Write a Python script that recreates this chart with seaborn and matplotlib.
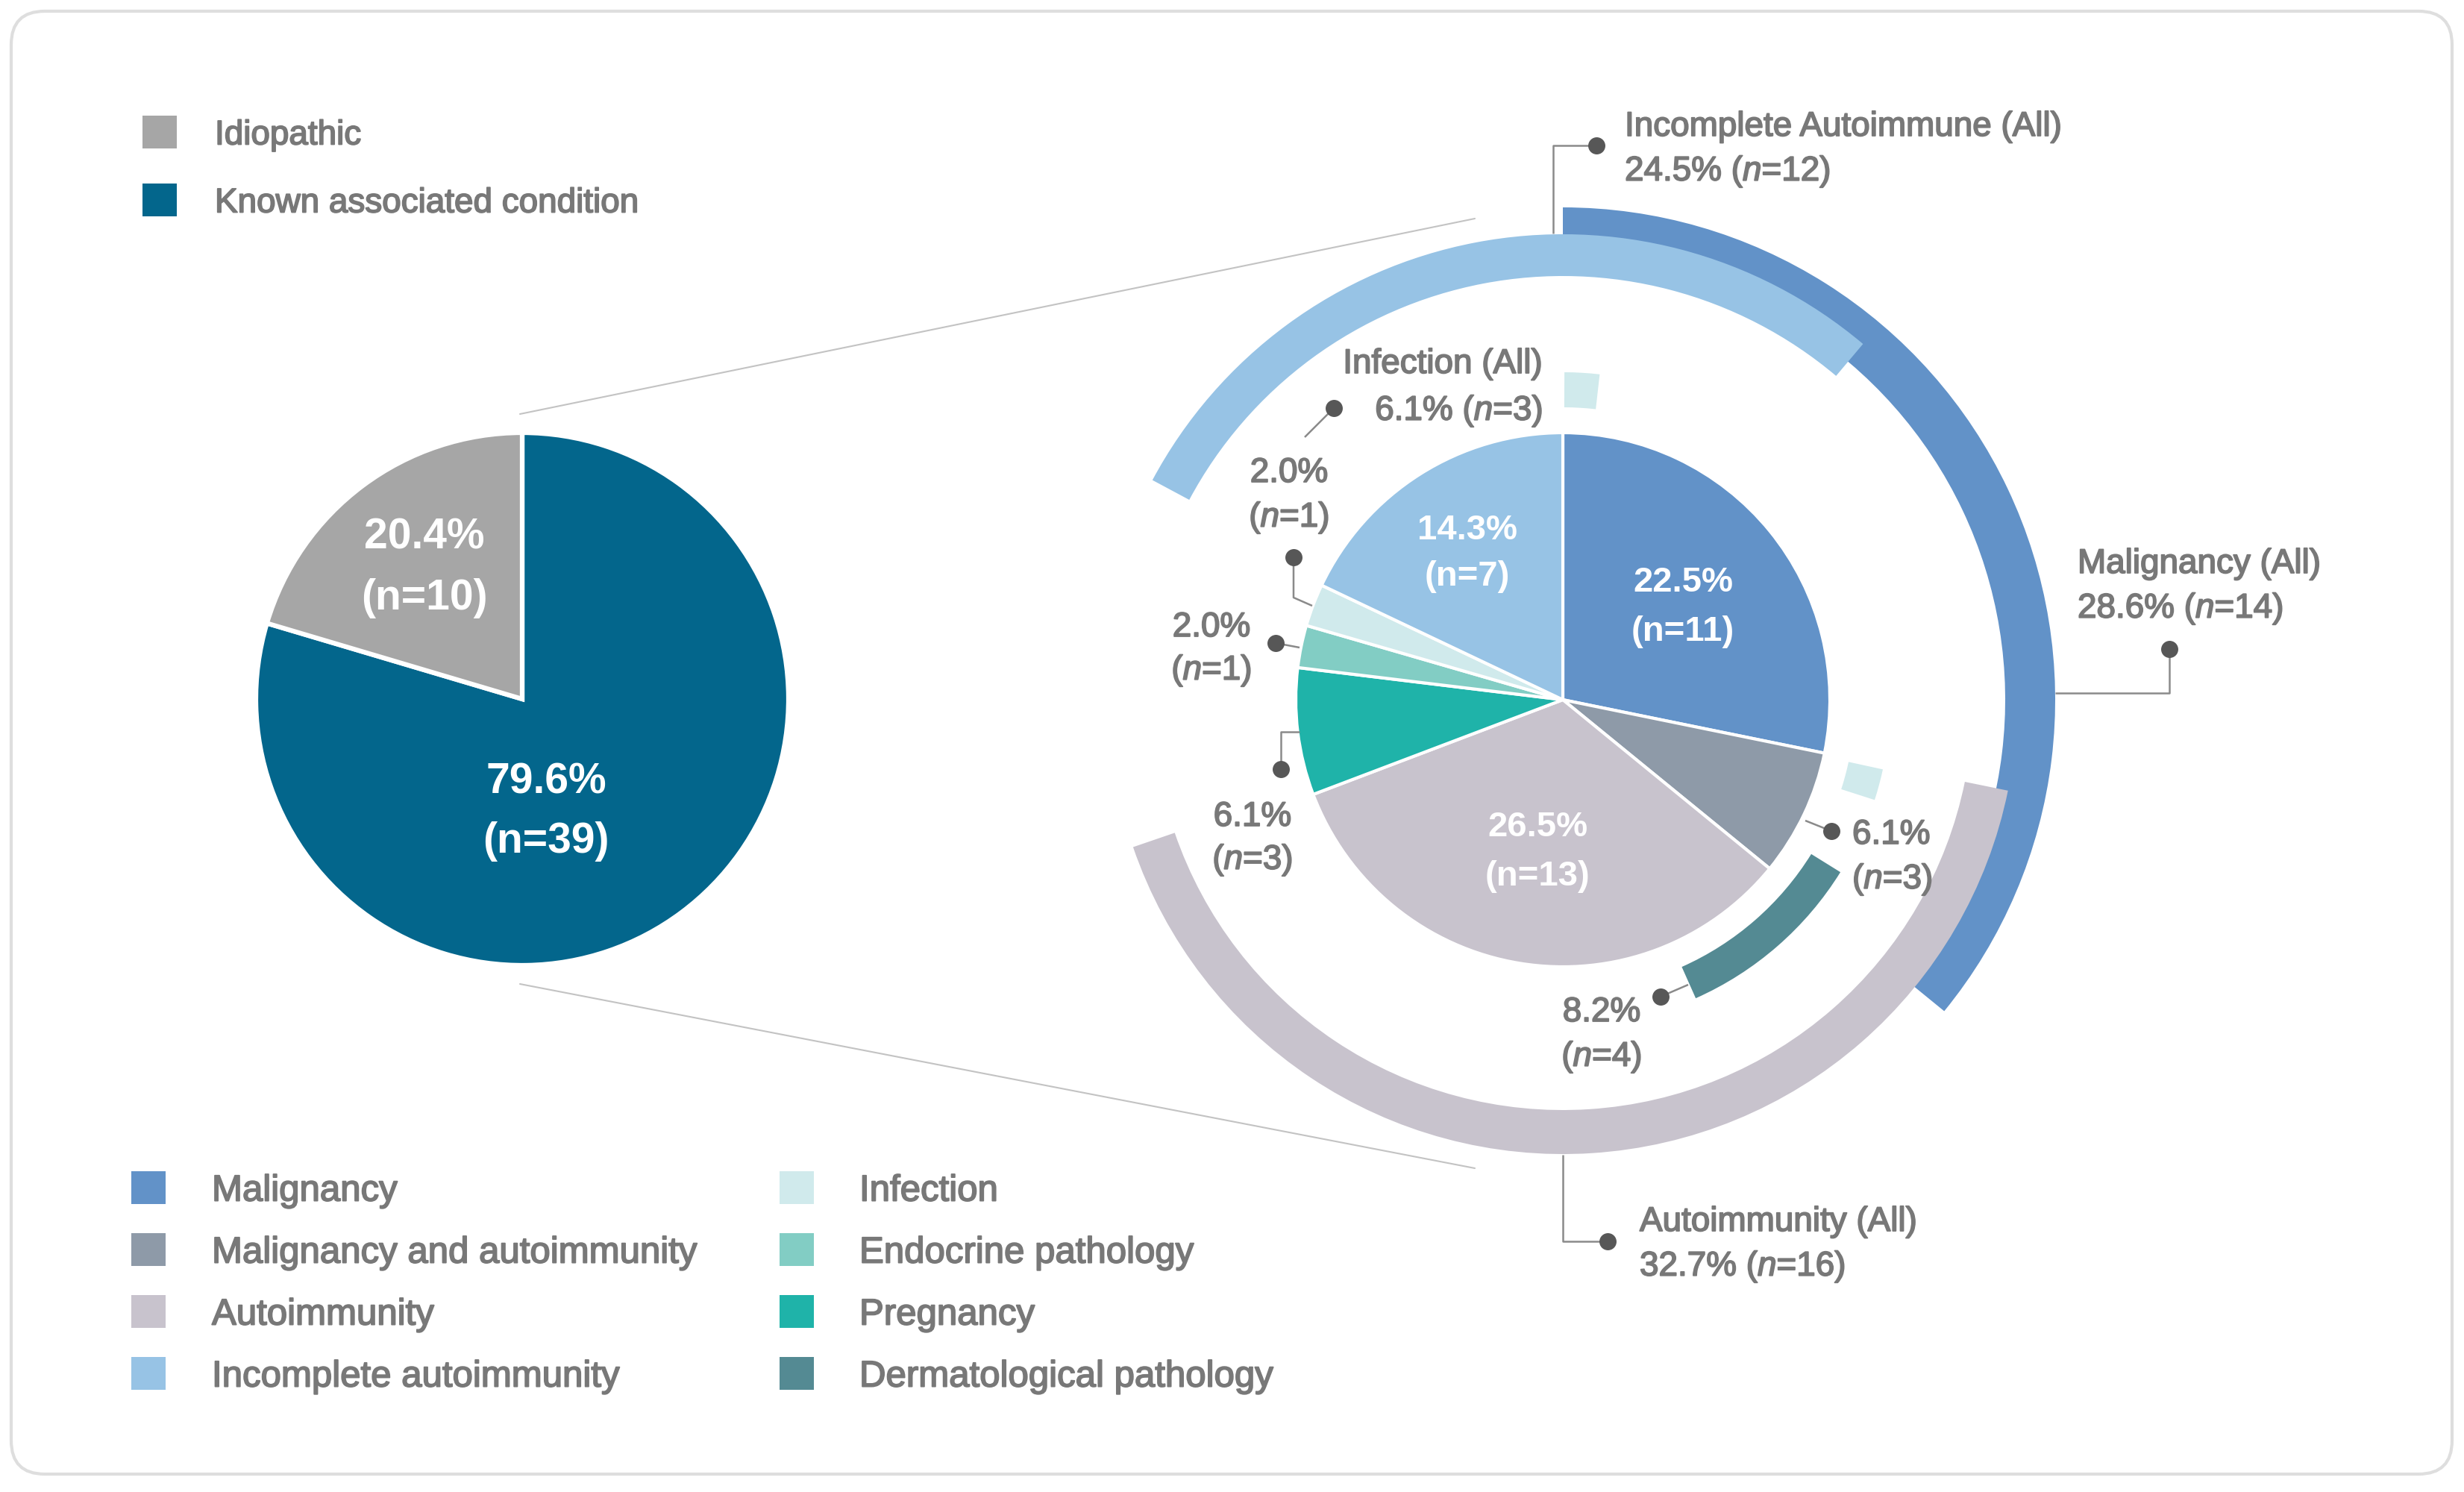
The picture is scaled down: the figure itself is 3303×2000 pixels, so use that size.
import matplotlib
matplotlib.use("Agg")
import matplotlib.pyplot as plt
from matplotlib import patheffects as pe
from matplotlib.patches import Rectangle, FancyBboxPatch
import seaborn as sns

# ---------------- data ----------------
overall_labels = ["Known associated condition", "Idiopathic"]
overall_counts = [39, 10]
overall_pct = ["79.6%", "20.4%"]
overall_colors = ["#03668c", "#a6a6a6"]

cond_labels = ["Malignancy", "Malignancy and autoimmunity", "Autoimmunity", "Pregnancy",
               "Endocrine pathology", "Infection", "Incomplete autoimmunity"]
cond_counts = [11, 3, 13, 3, 1, 1, 7]
cond_pct = ["22.5%", "6.1%", "26.5%", "6.1%", "2.0%", "2.0%", "14.3%"]
cond_colors = ["#6292c8", "#8e9aa8", "#c8c3cd", "#1fb3a9", "#82cdc4", "#d0eaec", "#97c3e5"]

# overlapping groups drawn as arcs around the inner pie (position / span in patients)
group_names = ["Malignancy (All)", "Incomplete Autoimmune (All)", "Autoimmunity (All)"]
group_n = [14, 12, 16]
group_pct = ["28.6%", "24.5%", "32.7%"]
group_start = [0, 32.3, 11]
group_span = [14, 11.05, 16.2]
group_colors = ["#6292c8", "#97c3e5", "#c8c3cd"]

derm_n = 4
derm_pct = "8.2%"
derm_start = 13.2
derm_span = 3.7
derm_color = "#548a93"

infection_all_n = 3
infection_all_pct = "6.1%"
infection_mark_start = [0.03, 11.08]
infection_mark_span = [0.67, 0.6]
infection_color = "#d0eaec"

legend_cols = [["Malignancy", "Malignancy and autoimmunity", "Autoimmunity", "Incomplete autoimmunity"],
               ["Infection", "Endocrine pathology", "Pregnancy", "Dermatological pathology"]]

SUB = sum(cond_counts)

# ---------------- layout (pixels, y measured from the top) ----------------
W, H = 3303, 2000
GREY = "#787878"
DOT = "#575757"
LEAD = "#8a8a8a"
FS = 33          # grey labels / top legend
FS_LEG = 35.4    # bottom legend
FS_IN = 34       # white labels inner pie
FS_LEFT = 41     # white labels left pie
HEAVY = [pe.withStroke(linewidth=1.3, foreground=GREY)]

left_c, left_r = (700, 937), 357
pie_c, pie_r = (2095, 938), 358
ring_geom = [(660, 67, 1), (624, 56, 2), (609, 59, 3)]  # outer radius, width, zorder
small_r, small_w = 439, 47


def Y(y):
    return H - y


sns.set_theme(style="white")
plt.rcParams["font.family"] = ["Liberation Sans", "DejaVu Sans"]
plt.rcParams["mathtext.fontset"] = "custom"
plt.rcParams["mathtext.rm"] = "Liberation Sans"
plt.rcParams["mathtext.it"] = "Liberation Sans:italic"

fig = plt.figure(figsize=(W / 100, H / 100), dpi=100)
ax = fig.add_axes([0, 0, 1, 1])


def arc(start, span, r, w, color, z):
    ax.pie([span, SUB - span], radius=r, center=(pie_c[0], Y(pie_c[1])),
           startangle=90 - start / SUB * 360, counterclock=False,
           colors=[color, "none"], wedgeprops=dict(width=w, edgecolor="none", zorder=z))


def text_pair(x, b1, b2, l1, l2, ha="center", color=GREY, size=FS, weight="normal"):
    effects = HEAVY if color == GREY else None
    for s, b in ((l1, b1), (l2, b2)):
        ax.text(x, Y(b), s, ha=ha, va="baseline", fontsize=size, color=color,
                fontweight=weight, zorder=10, path_effects=effects)


def leader(pts):
    xs = [p[0] for p in pts]
    ys = [Y(p[1]) for p in pts]
    ax.plot(xs, ys, color=LEAD, lw=1.8, zorder=8, solid_capstyle="butt")
    ax.plot(xs[0], ys[0], "o", ms=15.5, color=DOT, zorder=9)


# left pie
ax.pie(overall_counts, radius=left_r, center=(left_c[0], Y(left_c[1])), startangle=90,
       counterclock=False, colors=overall_colors,
       wedgeprops=dict(edgecolor="white", linewidth=4.5))

# zoom connector lines
ax.plot([697, 1977], [Y(555), Y(293)], color="#c3c3c3", lw=1.5)
ax.plot([697, 1977], [Y(1319), Y(1566)], color="#c3c3c3", lw=1.5)

# inner pie
ax.pie(cond_counts, radius=pie_r, center=(pie_c[0], Y(pie_c[1])), startangle=90,
       counterclock=False, colors=cond_colors,
       wedgeprops=dict(edgecolor="white", linewidth=3, zorder=4))

# group arcs
for s, sp, col, (r, w, z) in zip(group_start, group_span, group_colors, ring_geom):
    arc(s, sp, r, w, col, z)
arc(derm_start, derm_span, small_r - 1, small_w - 1, derm_color, 5)
for s, sp in zip(infection_mark_start, infection_mark_span):
    arc(s, sp, small_r, small_w, infection_color, 5)

# left pie labels
text_pair(732, 1063, 1143, overall_pct[0], f"(n={overall_counts[0]})",
          color="white", size=FS_LEFT, weight="bold")
text_pair(569, 735, 817, overall_pct[1], f"(n={overall_counts[1]})",
          color="white", size=FS_LEFT, weight="bold")

# inner pie white labels
inside = {"Malignancy": (2256, 793, 859), "Autoimmunity": (2061, 1121, 1187),
          "Incomplete autoimmunity": (1967, 723, 785)}
for name, (x, b1, b2) in inside.items():
    i = cond_labels.index(name)
    text_pair(x, b1, b2, cond_pct[i], f"(n={cond_counts[i]})", color="white", size=FS_IN, weight="bold")

# inner pie grey labels with leaders
outside = {
    "Malignancy and autoimmunity": ((2483, 1131, 1191, "left"), [(2455, 1114), (2420, 1100)]),
    "Pregnancy": ((1679, 1107, 1165, "center"), [(1717, 1031), (1717, 981), (1742, 981)]),
    "Endocrine pathology": ((1624, 853, 911, "center"), [(1710, 862), (1742, 868)]),
    "Infection": ((1728, 646, 706, "center"), [(1734, 747), (1734, 801), (1759, 812)]),
}
for name, ((x, b1, b2, ha), pts) in outside.items():
    i = cond_labels.index(name)
    text_pair(x, b1, b2, cond_pct[i], f"($n$={cond_counts[i]})", ha=ha)
    leader(pts)
leader([(1788, 547), (1749, 586)])

# dermatological arc label
text_pair(2147, 1369, 1429, derm_pct, f"($n$={derm_n})")
leader([(2226, 1336), (2263, 1320)])

# infection (all)
text_pair(2068, 500, 563, "Infection (All)", f"{infection_all_pct} ($n$={infection_all_n})", ha="right")

# group labels
group_txt = [(2785, 768, 828), (2178, 182, 242), (2198, 1650, 1710)]
group_lead = [[(2908, 870), (2908, 929), (2755, 929)],
              [(2140, 195), (2082, 195), (2082, 313)],
              [(2155, 1664), (2095, 1664), (2095, 1548)]]
for name, n, p, (x, b1, b2), pts in zip(group_names, group_n, group_pct, group_txt, group_lead):
    text_pair(x, b1, b2, name, f"{p} ($n$={n})", ha="left")
    leader(pts)

# top legend
for lab, yc in zip(["Idiopathic", "Known associated condition"], [177, 268]):
    col = overall_colors[overall_labels.index(lab)]
    ax.add_patch(Rectangle((191, Y(yc + 22)), 46, 44, facecolor=col, edgecolor="none"))
    ax.text(288, Y(yc + 16.5), lab, fontsize=FS, color=GREY, va="baseline", path_effects=HEAVY)

# bottom legend
all_colors = dict(zip(cond_labels, cond_colors))
all_colors["Dermatological pathology"] = derm_color
for (sx, tx), names in zip([(176, 284), (1045, 1152)], legend_cols):
    for lab, yc in zip(names, [1592, 1675, 1758, 1841]):
        ax.add_patch(Rectangle((sx, Y(yc + 22)), 46, 44, facecolor=all_colors[lab], edgecolor="none"))
        ax.text(tx, Y(yc + 17.6), lab, fontsize=FS_LEG, color=GREY, va="baseline", path_effects=HEAVY)

# frame
ax.add_patch(FancyBboxPatch((15, Y(1976)), 3272, 1961, boxstyle="round,pad=0,rounding_size=45",
                            facecolor="none", edgecolor="#dedede", lw=3, zorder=0))

ax.set_xlim(0, W)
ax.set_ylim(0, H)
ax.set_aspect("equal")
ax.axis("off")
fig.savefig("out.png", dpi=100, facecolor="white")
